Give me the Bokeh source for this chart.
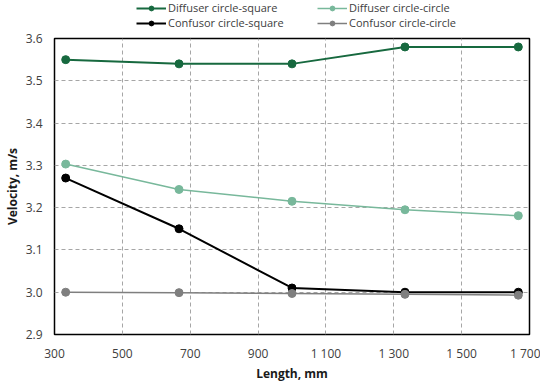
from bokeh.plotting import figure
from bokeh.layouts import column
from bokeh.models import Legend, LegendItem, FixedTicker, Range1d
from bokeh.embed import file_html
from bokeh.resources import INLINE

length = [333, 667, 1000, 1333, 1667]
diff_sq = [3.55, 3.54, 3.54, 3.58, 3.58]
diff_ci = [3.303, 3.243, 3.215, 3.195, 3.181]
conf_sq = [3.27, 3.15, 3.01, 3.0, 3.0]
conf_ci = [3.0, 2.999, 2.997, 2.995, 2.993]
names = ["Diffuser circle-square", "Diffuser circle-circle", "Confusor circle-square", "Confusor circle-circle"]
colors = ["#17693f", "#78b89b", "#000000", "#7f7f7f"]
x_ticks = [300, 500, 700, 900, 1100, 1300, 1500, 1700]
x_labels = ["300", "500", "700", "900", "1 100", "1 300", "1 500", "1 700"]
y_ticks = [2.9, 3.0, 3.1, 3.2, 3.3, 3.4, 3.5, 3.6]

FONT = "Open Sans"

p = figure(width=540, height=354, output_backend="svg", toolbar_location=None,
           x_range=Range1d(300, 1700), y_range=Range1d(2.9, 3.6),
           min_border_left=46, min_border_right=11, min_border_top=8, min_border_bottom=40)

p.outline_line_color = "black"
p.outline_line_width = 1.5
p.outline_line_alpha = 1

for ax in (p.xaxis, p.yaxis):
    ax.axis_line_color = None
    ax.major_tick_line_color = None
    ax.minor_tick_line_color = None
    ax.major_tick_out = 0
    ax.major_tick_in = 0
    ax.minor_tick_out = 0
    ax.minor_tick_in = 0
    ax.major_label_text_font = FONT
    ax.major_label_text_font_size = "12px"
    ax.major_label_text_color = "#404040"
    ax.axis_label_text_font = FONT
    ax.axis_label_text_font_size = "12px"
    ax.axis_label_text_font_style = "bold"
    ax.axis_label_text_color = "#1a1a1a"

p.xaxis.ticker = FixedTicker(ticks=x_ticks)
p.xaxis.major_label_overrides = {t: l for t, l in zip(x_ticks, x_labels)}
p.yaxis.ticker = FixedTicker(ticks=y_ticks)
p.yaxis.major_label_overrides = {t: f"{t:.1f}" for t in y_ticks}
p.xaxis.axis_label = "Length, mm"
p.yaxis.axis_label = "Velocity, m/s"
p.xaxis.major_label_standoff = 10
p.yaxis.major_label_standoff = 12
p.xaxis.axis_label_standoff = 0
p.yaxis.axis_label_standoff = 2

for g in (p.xgrid, p.ygrid):
    g.grid_line_color = "#a6a6a6"
    g.grid_line_dash = "4 3"
    g.grid_line_width = 1

series = [diff_sq, diff_ci, conf_sq, conf_ci]
widths = [2, 1.5, 2, 1.5]
for ys, c, w in zip(series, colors, widths):
    p.line(length, ys, line_color=c, line_width=w)
    p.scatter(length, ys, size=8, fill_color=c, line_color=c)

# legend strip above the plot (its renderers lie outside its view range)
lg = figure(width=540, height=30, output_backend="svg", toolbar_location=None,
            x_range=Range1d(0, 1), y_range=Range1d(0, 1),
            x_axis_location=None, y_axis_location=None,
            min_border_left=0, min_border_right=0, min_border_top=0, min_border_bottom=0)
lg.outline_line_color = None
lg.grid.visible = False
items = []
for name, ys, c, w in zip(names, series, colors, widths):
    r1 = lg.line(length, ys, line_color=c, line_width=w)
    r2 = lg.scatter(length, ys, size=8, fill_color=c, line_color=c)
    items.append(LegendItem(label=name, renderers=[r1, r2]))

legend = Legend(items=items, orientation="horizontal", ncols=2, location=(82, 0),
                border_line_color=None, background_fill_alpha=0,
                label_text_font=FONT, label_text_font_size="11px", label_text_color="#404040",
                glyph_width=30, glyph_height=12, label_height=12, label_width=149,
                label_standoff=2, spacing=0, padding=0, margin=0)
lg.add_layout(legend)

layout = column(lg, p, spacing=0)
open("out.html", "w").write(file_html(layout, INLINE))
